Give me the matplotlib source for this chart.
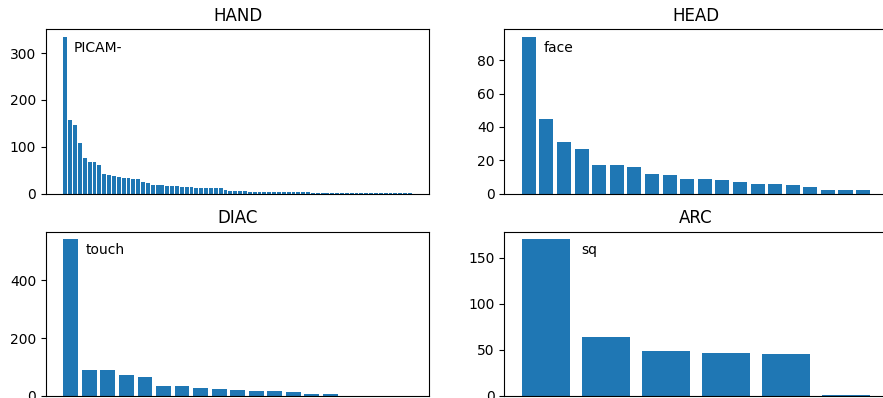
import numpy as np
import matplotlib
matplotlib.use("Agg")
import matplotlib.pyplot as plt

# counts per item, sorted descending
hand_vals = [334, 157, 146, 108, 76, 68, 68, 61, 42, 40,
             38, 36, 34, 34, 32, 30, 25, 23, 18, 18,
             18, 16, 16, 16, 14, 14, 14, 12, 12, 12,
             12, 12, 12, 7, 5, 5, 5, 5, 3, 3,
             3, 3, 3, 3, 3, 3, 3, 3, 3, 3,
             3, 1, 1, 1, 1, 1, 1, 1, 1, 1,
             1, 1, 1, 1, 1, 1, 1, 1, 1, 1,
             1, 1]
head_vals = [94, 45, 31, 27, 17, 17, 16, 12, 11, 9,
             9, 8, 7, 6, 6, 5, 4, 2, 2, 2]
diac_vals = [542, 89, 89, 71, 64, 33, 33, 26, 23, 20,
             16, 16, 13, 6, 6, 1, 1, 1, 1]
arc_vals = [170, 64, 49, 47, 45, 1]

titles = ["HAND", "HEAD", "DIAC", "ARC"]
top_labels = ["PICAM-", "face", "touch", "sq"]
label_x = [0.071, 0.102, 0.103, 0.200]

W, H = 883, 398
fig = plt.figure(figsize=(W / 100, H / 100), dpi=100)

# axes boxes in pixels (left, top) - reference is cropped on right/bottom
aw, ah = 383.3, 164.2
boxes = [(46, 29.3), (504.3, 29.3), (46, 231.6), (504.3, 231.6)]

data = [hand_vals, head_vals, diac_vals, arc_vals]
for i, vals in enumerate(data):
    left, top = boxes[i]
    ax = fig.add_axes([left / W, (H - top - ah) / H, aw / W, ah / H])
    ax.bar(np.arange(len(vals)), vals, color="#1f77b4")
    ax.set_xticks([])
    ax.set_title(titles[i], fontsize=12)
    ax.text(label_x[i], 0.861, top_labels[i], transform=ax.transAxes,
            ha="left", va="baseline", fontsize=10)

fig.savefig("out.png", dpi=100)
